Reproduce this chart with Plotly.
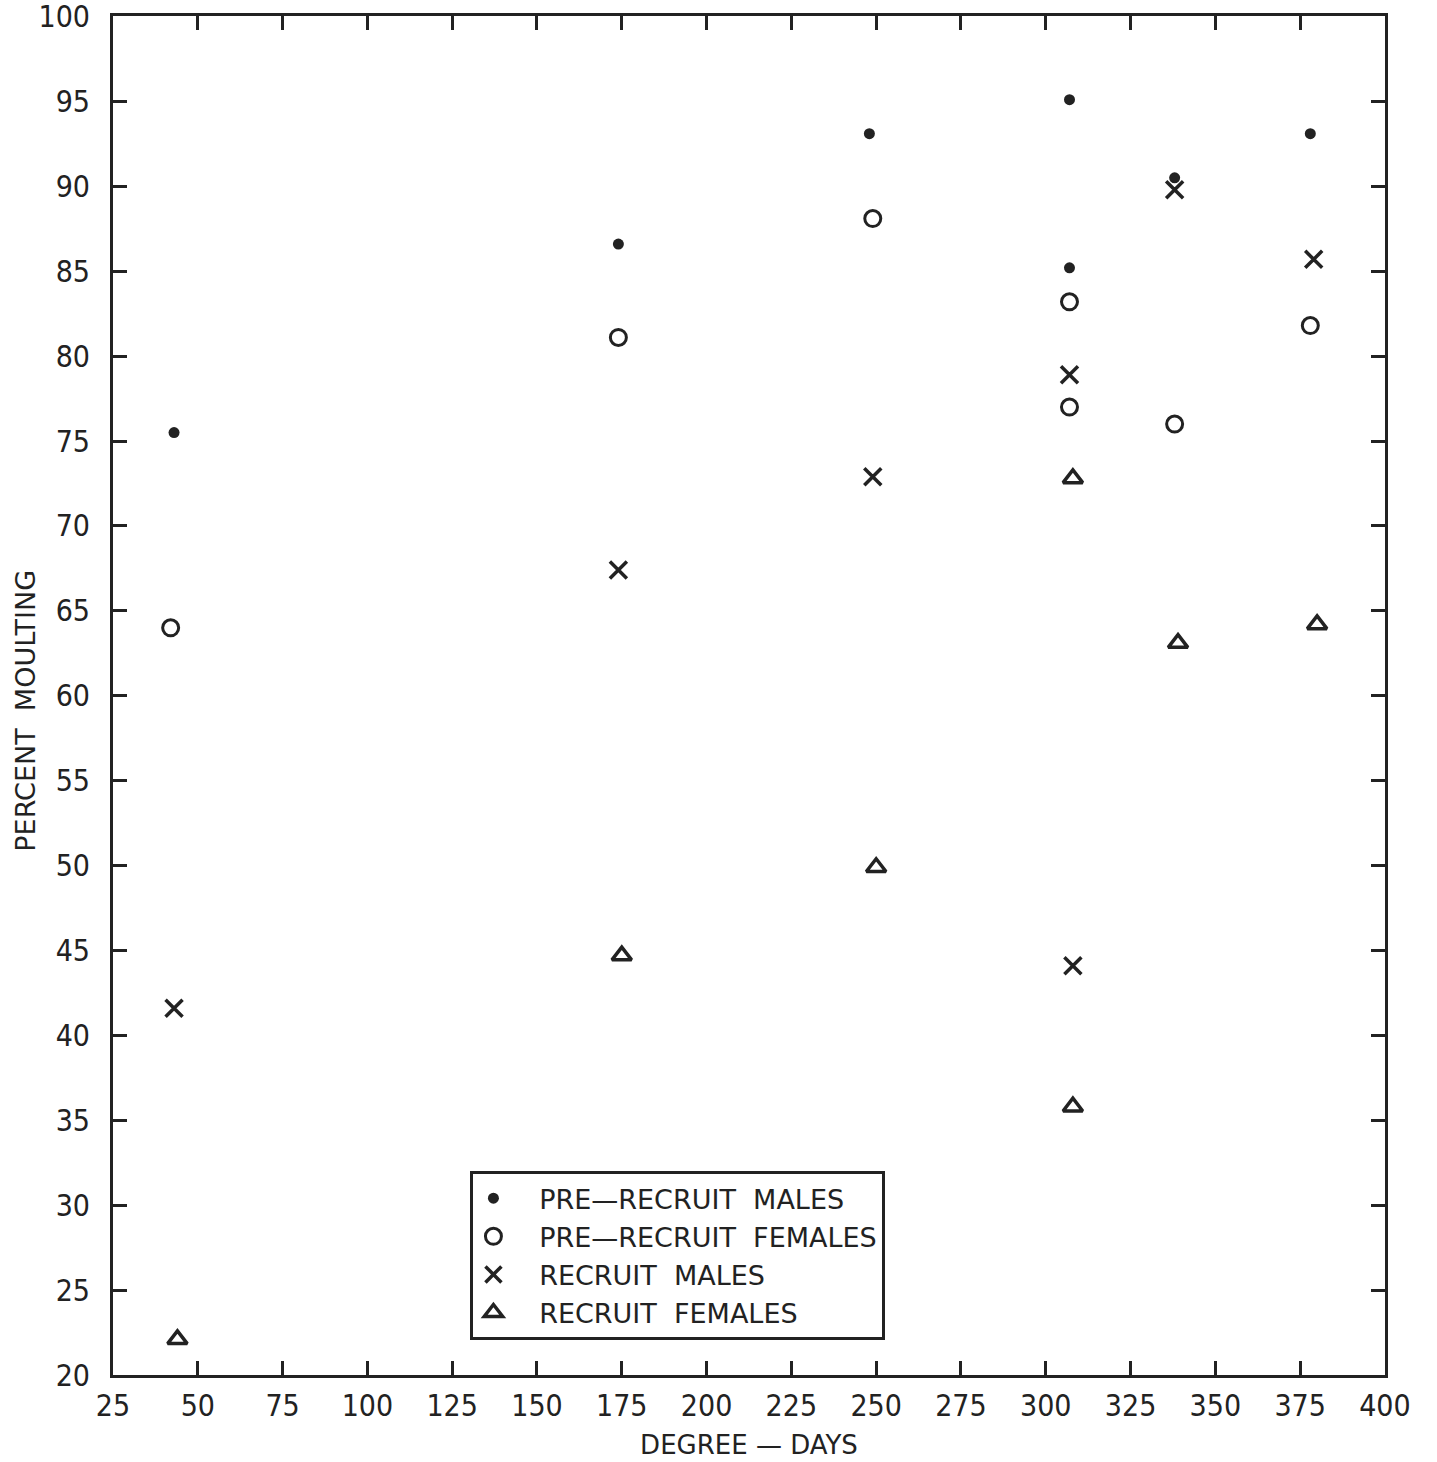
import plotly.graph_objects as go

# Data
pre_males_x = [43, 174, 248, 307, 307, 338, 378]
pre_males_y = [75.5, 86.6, 93.1, 95.1, 85.2, 90.5, 93.1]

pre_females_x = [42, 174, 249, 307, 307, 338, 378]
pre_females_y = [64.0, 81.1, 88.1, 83.2, 77.0, 76.0, 81.8]

rec_males_x = [43, 174, 249, 307, 308, 338, 379]
rec_males_y = [41.6, 67.4, 72.9, 78.9, 44.1, 89.8, 85.7]

rec_females_x = [44, 175, 250, 308, 308, 339, 380]
rec_females_y = [22.1, 44.7, 49.9, 72.8, 35.8, 63.1, 64.2]

x_ticks = [25, 50, 75, 100, 125, 150, 175, 200, 225, 250, 275, 300, 325, 350, 375, 400]
y_ticks = [20, 25, 30, 35, 40, 45, 50, 55, 60, 65, 70, 75, 80, 85, 90, 95, 100]

FONT = "DejaVu Sans Condensed, DejaVu Sans, sans-serif"
WIDE = "DejaVu Sans, sans-serif"
INK = "#222"

fig = go.Figure()
fig.add_trace(go.Scatter(x=pre_males_x, y=pre_males_y, mode="markers",
                         name="\u00a0\u00a0\u00a0PRE\u2014RECRUIT  MALES",
                         marker=dict(symbol="circle", size=11, color=INK)))
fig.add_trace(go.Scatter(x=pre_females_x, y=pre_females_y, mode="markers",
                         name="\u00a0\u00a0\u00a0PRE\u2014RECRUIT  FEMALES",
                         marker=dict(symbol="circle-open", size=16, color=INK,
                                     line=dict(width=3, color=INK))))
fig.add_trace(go.Scatter(x=rec_males_x, y=rec_males_y, mode="markers",
                         name="\u00a0\u00a0\u00a0RECRUIT  MALES",
                         marker=dict(symbol="x-thin-open", size=17, color=INK,
                                     line=dict(width=3.5, color=INK))))
fig.add_trace(go.Scatter(x=rec_females_x, y=rec_females_y, mode="markers",
                         name="\u00a0\u00a0\u00a0RECRUIT  FEMALES",
                         marker=dict(symbol="triangle-up-open", size=17, color=INK,
                                     line=dict(width=3.5, color=INK))))

axis_common = dict(
    showline=True, linewidth=3, linecolor=INK, mirror="ticks",
    ticks="inside", ticklen=14, tickwidth=3, tickcolor=INK,
    showgrid=False, zeroline=False, automargin=False,
    ticklabeloverflow="allow",
    tickfont=dict(family=FONT, size=30, color=INK),
)

fig.update_xaxes(range=[25, 400.02], tickvals=x_ticks,
                 ticktext=[str(v) for v in x_ticks],
                 ticklabelstandoff=2,
                 title=dict(text="DEGREE \u2014 DAYS",
                            font=dict(family=WIDE, size=26, color=INK),
                            standoff=14),
                 **axis_common)
fig.update_yaxes(range=[20, 100.03], tickvals=y_ticks,
                 ticktext=[str(v) for v in y_ticks],
                 ticklabelstandoff=14,
                 **axis_common)

fig.add_annotation(text="PERCENT  MOULTING", textangle=-90,
                   xref="paper", yref="paper", x=-0.069, y=0.489,
                   xanchor="center", yanchor="middle", showarrow=False,
                   font=dict(family=WIDE, size=27, color=INK))

fig.update_layout(
    width=1437, height=1462,
    margin=dict(l=113, r=52, t=16, b=87),
    paper_bgcolor="white", plot_bgcolor="white",
    legend=dict(x=0.281, y=0.150, xanchor="left", yanchor="top",
                bordercolor=INK, borderwidth=3, bgcolor="white",
                font=dict(family=WIDE, size=27, color=INK),
                itemwidth=30, tracegroupgap=0,
                entrywidth=380, entrywidthmode="pixels"),
    showlegend=True,
)

fig.write_html("out.html", config={"displayModeBar": False},
               post_script="document.body.style.margin='0';document.body.style.padding='0';")
